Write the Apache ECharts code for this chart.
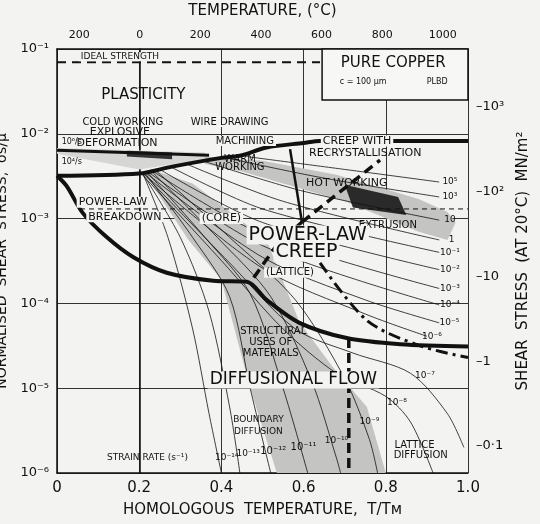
<!DOCTYPE html>
<html>
<head>
<meta charset="utf-8">
<script src="https://cdn.jsdelivr.net/npm/echarts@6/dist/echarts.min.js"></script>
<style>html,body{margin:0;background:#f3f3f1}#c{width:540px;height:524px}</style>
</head>
<body>
<div id="c"></div>
<script>
// axis ticks
var xTicks = [0, 0.2, 0.4, 0.6, 0.8, 1.0];
var tempTicks = [-200, 0, 200, 400, 600, 800, 1000];
var rightTicks = [0.1, 1, 10, 100, 1000];
var muMN = 4.8e4; // shear modulus used for right axis, MN/m2

// field boundaries  [T/Tm, sigma/mu]
var plastBoundary = [[0,3.2e-3],[0.2,3.4e-3],[0.28,4.1e-3],[0.4,5.2e-3],[0.445,5.5e-3],[0.51,6.9e-3],[0.6,7.8e-3],[0.64,8.2e-3],[1.0,8.2e-3]];
var breakdownBoundary = [[0,3.2e-3],[0.024,2.4e-3],[0.063,1.16e-3],[0.12,6.1e-4],[0.186,3.5e-4],[0.267,2.3e-4],[0.38,1.85e-4],[0.462,1.8e-4],[0.51,1.1e-4],[0.59,5.9e-5],[0.705,3.9e-5],[0.835,3.3e-5],[1.0,3.1e-5]];
var idealStrength = [[0,7e-2],[0.64,7e-2]];
var plbdLine = [[0.056,1.3e-3],[1.0,1.3e-3]];
var vLeft = [[0.567,6.6e-3],[0.596,9.1e-4]];
var vRight = [[0.596,9.1e-4],[0.786,4.9e-3]];
var vDown = [[0.596,9.1e-4],[0.535,4.9e-4],[0.475,1.9e-4]];
var vertDash = [[0.71,3.9e-5],[0.71,1e-6]];
var dashDot = [[0.64,3.0e-4],[0.754,6.3e-5],[0.88,3.2e-5],[1.0,2.3e-5]];
var coldLine = [[0,6.4e-3],[0.37,5.6e-3]];

// strain-rate contours
var contours = [
  [[0.46,5.4e-3],[0.7,3.8e-3],[0.93,2.7e-3]],
  [[0.42,5.1e-3],[0.65,3.0e-3],[0.93,1.8e-3]],
  [[0.36,4.7e-3],[0.6,2.1e-3],[0.93,9.6e-4]],
  [[0.32,4.3e-3],[0.55,1.6e-3],[0.93,5.6e-4]],
  [[0.28,4.0e-3],[0.5,1.3e-3],[0.93,4.0e-4]],
  [[0.25,3.8e-3],[0.5,9e-4],[0.93,2.5e-4]],
  [[0.23,3.7e-3],[0.5,6.5e-4],[0.93,1.5e-4]],
  [[0.22,3.6e-3],[0.5,4.8e-4],[0.93,9.6e-5]],
  [[0.215,3.5e-3],[0.5,3.5e-4],[0.75,1.1e-4],[0.93,5.9e-5]],
  [[0.21,3.4e-3],[0.5,2.6e-4],[0.75,7.5e-5],[0.9,4.1e-5]],
  [[0.21,3.4e-3],[0.42,3e-4],[0.58,5e-5],[0.72,2.6e-5],[0.86,1.5e-5],[0.95,5e-6],[0.99,2e-6]],
  [[0.205,3.4e-3],[0.40,3.2e-4],[0.55,5e-5],[0.68,1.5e-5],[0.80,8e-6],[0.86,4e-6],[0.915,1e-6]],
  [[0.24,3.7e-3],[0.42,6e-4],[0.58,1.1e-4],[0.70,1.3e-5],[0.76,2.5e-6],[0.78,1e-6]],
  [[0.23,3.6e-3],[0.39,6e-4],[0.52,1.2e-4],[0.62,1.2e-5],[0.68,1.5e-6],[0.69,1e-6]],
  [[0.22,3.5e-3],[0.36,6e-4],[0.47,1.3e-4],[0.55,1e-5],[0.61,1e-6]],
  [[0.215,3.4e-3],[0.33,6e-4],[0.42,1.2e-4],[0.47,1e-5],[0.52,1e-6]],
  [[0.21,3.3e-3],[0.30,6e-4],[0.37,8e-5],[0.42,6e-6],[0.445,1e-6]],
  [[0.21,3.3e-3],[0.27,6e-4],[0.33,5e-5],[0.37,5e-6],[0.40,1e-6]]
];

// shaded regions
var structBand = [[0.21,3.6e-3],[0.32,5.6e-4],[0.40,1.9e-4],[0.47,1e-5],[0.535,1e-6],[0.80,1e-6],[0.754,6e-6],[0.67,1.8e-5],[0.59,6e-5],[0.51,5.6e-4],[0.33,2.6e-3],[0.23,3.8e-3]];
var hotBand = [[0.36,5.4e-3],[0.50,4.8e-3],[0.68,3.3e-3],[0.88,1.7e-3],[0.95,1.2e-3],[0.97,9e-4],[0.95,5.6e-4],[0.88,7e-4],[0.70,1.6e-3],[0.55,2.6e-3],[0.45,3.6e-3],[0.36,4.4e-3]];
var extrusion = [[0.70,2.5e-3],[0.83,1.8e-3],[0.85,1.1e-3],[0.72,1.35e-3]];
var machining = [[0.0,6.8e-3],[0.36,6.0e-3],[0.36,5.0e-3],[0.2,3.8e-3],[0.0,5.8e-3]];
var coldBand = [[0.17,6.3e-3],[0.28,6.0e-3],[0.28,5.0e-3],[0.17,5.4e-3]];
var copperBox = [[0.645,0.1],[1.0,0.1],[1.0,2.5e-2],[0.645,2.5e-2]];

// text annotations [x, y, text, size, whiteBg]
var notes = [
  [0.153,8.1e-2,'IDEAL STRENGTH',9,1],
  [0.818,6.8e-2,'PURE COPPER',15,0],
  [0.745,4.1e-2,'c = 100 μm',8,0],
  [0.925,4.1e-2,'PLBD',8,0],
  [0.21,2.87e-2,'PLASTICITY',15,0],
  [0.16,1.38e-2,'COLD WORKING',10,0],
  [0.153,1.05e-2,'EXPLOSIVE',11,0],
  [0.146,7.8e-3,'DEFORMATION',11,0],
  [0.036,8e-3,'10⁶/s',8,0],
  [0.036,4.6e-3,'10⁴/s',8,0],
  [0.42,1.38e-2,'WIRE DRAWING',10,1],
  [0.457,8.2e-3,'MACHINING',10,1],
  [0.73,8.2e-3,'CREEP WITH',11,1],
  [0.75,5.9e-3,'RECRYSTALLISATION',11,0],
  [0.445,5.0e-3,'WARM',10,0],
  [0.445,4.0e-3,'WORKING',10,0],
  [0.705,2.6e-3,'HOT WORKING',11,0],
  [0.805,8.4e-4,'EXTRUSION',10,0],
  [0.136,1.56e-3,'POWER-LAW',11,1],
  [0.165,1.05e-3,'BREAKDOWN',11,1],
  [0.40,1.0e-3,'(CORE)',11,1],
  [0.61,6.4e-4,'POWER-LAW',19,1],
  [0.607,4.0e-4,'CREEP',19,1],
  [0.567,2.3e-4,'(LATTICE)',10,1],
  [0.526,4.7e-5,'STRUCTURAL',10,0],
  [0.52,3.5e-5,'USES OF',10,0],
  [0.52,2.6e-5,'MATERIALS',10,0],
  [0.575,1.25e-5,'DIFFUSIONAL FLOW',17,1],
  [0.49,4.3e-6,'BOUNDARY',9,0],
  [0.49,3.1e-6,'DIFFUSION',9,0],
  [0.22,1.5e-6,'STRAIN RATE (s⁻¹)',9,0],
  [0.87,2.1e-6,'LATTICE',10,0],
  [0.885,1.6e-6,'DIFFUSION',10,0],
  [0.413,1.5e-6,'10⁻¹⁴',9,0],
  [0.465,1.7e-6,'10⁻¹³',9,0],
  [0.526,1.8e-6,'10⁻¹²',10,0],
  [0.60,2.0e-6,'10⁻¹¹',10,0],
  [0.68,2.4e-6,'10⁻¹⁰',9,0],
  [0.76,4.0e-6,'10⁻⁹',9,0],
  [0.827,6.7e-6,'10⁻⁸',9,0],
  [0.895,1.4e-5,'10⁻⁷',9,0],
  [0.912,4.1e-5,'10⁻⁶',9,0],
  [0.955,5.9e-5,'10⁻⁵',9,0],
  [0.956,9.6e-5,'10⁻⁴',9,0],
  [0.956,1.5e-4,'10⁻³',9,0],
  [0.956,2.5e-4,'10⁻²',9,0],
  [0.956,4.0e-4,'10⁻¹',9,0],
  [0.96,5.6e-4,'1',9,0],
  [0.956,9.6e-4,'10',9,0],
  [0.956,1.8e-3,'10³',9,0],
  [0.956,2.7e-3,'10⁵',9,0]
];

var sup = {'-':'⁻','0':'⁰','1':'¹','2':'²','3':'³','4':'⁴','5':'⁵','6':'⁶','7':'⁷','8':'⁸','9':'⁹'};
function powLabel(v) {
  var e = Math.round(Math.log10(v));
  return '10' + String(e).split('').map(function (ch) { return sup[ch]; }).join('');
}
var FONT = 'DejaVu Sans';
var INK = '#111';

function line(data, w, type, extra) {
  return Object.assign({
    type: 'line', data: data, symbol: 'none', silent: true, z: 3,
    lineStyle: {color: INK, width: w, type: type || 'solid'}
  }, extra || {});
}
function poly(pts, fill, z, stroke) {
  return {
    type: 'custom', data: [0], silent: true, z: z,
    renderItem: function (params, api) {
      return {type: 'polygon', shape: {points: pts.map(function (p) { return api.coord(p); })},
        style: {fill: fill, stroke: stroke || null, lineWidth: stroke ? 1.5 : 0}};
    }
  };
}

var series = [
  poly(structBand, '#c4c4c2', 1),
  poly(hotBand, '#c4c4c2', 1),
  poly(machining, '#d6d6d4', 1),
  poly(extrusion, '#2a2a2a', 2),
  poly(coldBand, '#333', 2),
  poly(copperBox, '#f7f7f5', 5, INK)
];
contours.forEach(function (c) { series.push(line(c, 0.8, 'solid', {smooth: 0.3, z: 2})); });
series.push(line(plastBoundary, 4, 'solid', {smooth: 0.3}));
series.push(line(breakdownBoundary, 4, 'solid', {smooth: 0.3}));
series.push(line(idealStrength, 2, [9, 6]));
series.push(line(plbdLine, 1, [5, 4]));
series.push(line(vLeft, 2.5));
series.push(line(vRight, 3.5, [10, 6]));
series.push(line(vDown, 3.5, [10, 6]));
series.push(line(vertDash, 3.5, [10, 5]));
series.push(line(dashDot, 3, [12, 5, 3, 5], {smooth: 0.3}));
series.push(line(coldLine, 3));
series.push({
  type: 'custom', data: notes, silent: true, z: 10,
  encode: {x: 0, y: 1},
  renderItem: function (params, api) {
    var n = notes[params.dataIndex];
    var p = api.coord([n[0], n[1]]);
    return {type: 'text', x: p[0], y: p[1],
      style: {text: n[2], font: n[3] + 'px "' + FONT + '"', fill: INK,
        align: 'center', verticalAlign: 'middle',
        backgroundColor: n[4] ? '#f3f3f1' : null, padding: n[4] ? [0, 2] : 0}};
  }
});

var chart = echarts.init(document.getElementById('c'));
chart.setOption({
  backgroundColor: '#f3f3f1',
  animation: false,
  textStyle: {fontFamily: FONT, color: INK},
  grid: {left: 57, right: 72, top: 49, bottom: 51, outerBoundsMode: 'none', containLabel: false},
  xAxis: [{
    type: 'value', min: 0, max: 1, interval: 0.2,
    name: 'HOMOLOGOUS  TEMPERATURE,  T/Tм', nameLocation: 'middle', nameGap: 30,
    nameTextStyle: {fontSize: 15, color: INK},
    axisLine: {lineStyle: {color: INK, width: 1.5}},
    axisTick: {show: false},
    axisLabel: {fontSize: 15, color: INK, formatter: function (v) { return v === 0 ? '0' : v.toFixed(1); }},
    splitLine: {show: true, lineStyle: {color: '#333', width: 1}}
  }, {
    type: 'value', position: 'top', min: -273, max: 1083,
    name: 'TEMPERATURE, (°C)', nameLocation: 'middle', nameGap: 30,
    nameTextStyle: {fontSize: 15, color: INK},
    axisLine: {lineStyle: {color: INK, width: 1.5}},
    axisTick: {show: false},
    axisLabel: {fontSize: 11, color: INK, customValues: tempTicks, formatter: function (v) { return String(Math.abs(v)); }},
    splitLine: {show: false}
  }],
  yAxis: [{
    type: 'log', min: 1e-6, max: 1e-1, logBase: 10,
    name: 'NORMALISED  SHEAR  STRESS,  σs/μ', nameLocation: 'middle', nameGap: 36,
    nameTextStyle: {fontSize: 14, color: INK},
    axisLine: {show: true, lineStyle: {color: INK, width: 1.5}},
    axisTick: {show: false},
    axisLabel: {fontSize: 13, color: INK, formatter: powLabel},
    splitLine: {show: true, lineStyle: {color: '#333', width: 1}}
  }, {
    type: 'log', min: 1e-6 * muMN, max: 1e-1 * muMN, logBase: 10, position: 'right',
    name: 'SHEAR  STRESS  (AT 20°C)  MN/m²', nameLocation: 'middle', nameGap: 38,
    nameTextStyle: {fontSize: 15, color: INK},
    axisLine: {show: true, lineStyle: {color: INK, width: 1.5}},
    axisTick: {show: false},
    axisLabel: {fontSize: 13, color: INK, customValues: rightTicks, formatter: function (v) {
      return v >= 100 ? '–' + powLabel(v) : '–' + (v < 1 ? '0·1' : String(Math.round(v))); }},
    splitLine: {show: false}
  }],
  series: series
});
</script>
</body>
</html>
